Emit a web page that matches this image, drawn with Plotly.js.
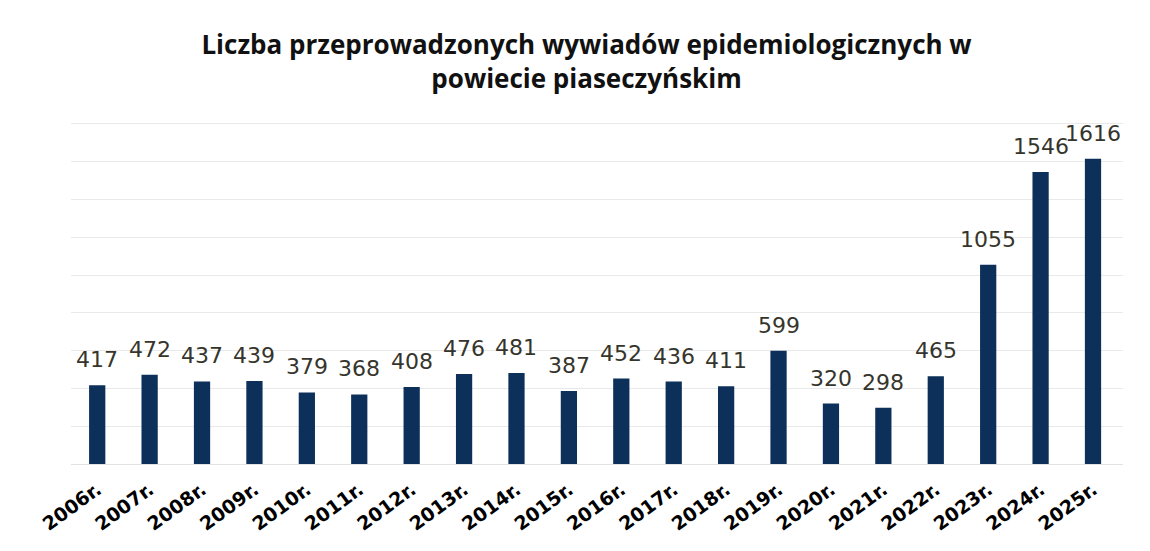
<!DOCTYPE html>
<html>
<head>
<meta charset="utf-8">
<script src="https://cdn.plot.ly/plotly-3.0.1.min.js"></script>
<style>html,body{margin:0;padding:0;background:#fff;}#chart{width:1150px;height:551px;}</style>
</head>
<body>
<div id="chart"></div>
<script>
const years = ["2006r.","2007r.","2008r.","2009r.","2010r.","2011r.","2012r.","2013r.","2014r.","2015r.","2016r.","2017r.","2018r.","2019r.","2020r.","2021r.","2022r.","2023r.","2024r.","2025r."];
const interviews = [417,472,437,439,379,368,408,476,481,387,452,436,411,599,320,298,465,1055,1546,1616];
const titleText = "Liczba przeprowadzonych wywiadów epidemiologicznych w<br>powiecie piaseczyńskim";

const labels = years.map((yr, i) => ({
  x: yr, y: interviews[i], xref: "x", yref: "y",
  text: String(interviews[i]),
  showarrow: false, yanchor: "bottom", yshift: 11,
  font: {family: "DejaVu Sans", size: 22, color: "#36352c"}
}));

Plotly.newPlot("chart", [{
  type: "bar",
  x: years,
  y: interviews,
  marker: {color: "#0c3059"},
  width: 0.31,
  hoverinfo: "x+y"
}], {
  width: 1150, height: 551,
  margin: {l: 71, r: 27, t: 122, b: 87},
  paper_bgcolor: "#ffffff",
  plot_bgcolor: "#ffffff",
  showlegend: false,
  annotations: labels,
  title: {
    text: "<b>" + titleText + "</b>",
    x: 0.51, xanchor: "center",
    y: 0.902, yanchor: "top",
    font: {family: "Open Sans", size: 26, color: "#111111"}
  },
  xaxis: {
    tickangle: -36,
    tickfont: {family: "DejaVu Sans", size: 19, color: "#000000", weight: "bold"},
    ticklabelstandoff: 10,
    showgrid: false, zeroline: false,
    showline: false,
    ticks: ""
  },
  yaxis: {
    range: [0, 1810],
    dtick: 200,
    showticklabels: false,
    showgrid: true,
    gridcolor: "#e9e9e9",
    gridwidth: 1,
    zeroline: true,
    zerolinecolor: "#e2e2e2"
  }
}, {displayModeBar: false, staticPlot: true});
</script>
</body>
</html>
